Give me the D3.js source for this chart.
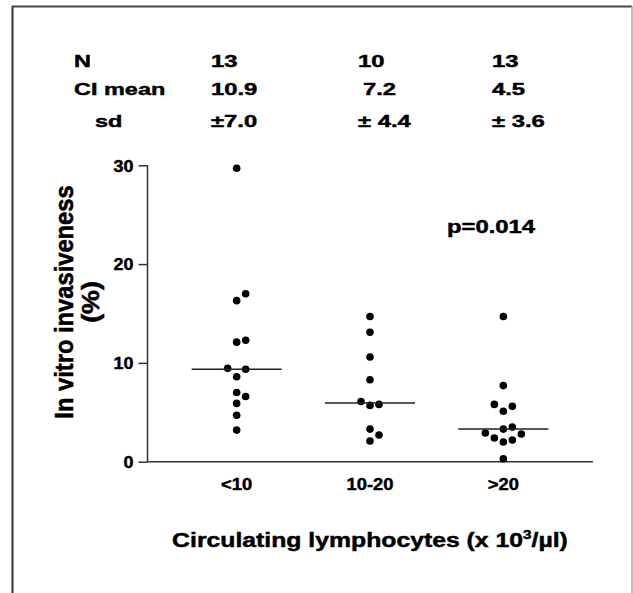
<!DOCTYPE html>
<html lang="en">
<head>
  <meta charset="UTF-8" />
  <title>In vitro invasiveness by circulating lymphocytes</title>
  <script src="https://d3js.org/d3.v7.min.js"></script>
  <style>
    body { margin: 0; background: #fff; }
    svg { display: block; font-family: "Liberation Sans", Arial, sans-serif; font-weight: bold; }
    svg text { fill: #000; stroke: #000; stroke-width: 0.45px; }
  </style>
</head>
<body>
<svg width="633" height="593"></svg>

<script>
  // data
  const categories = ["<10", "10-20", ">20"];
  const nCounts = ["13", "10", "13"];
  const ciMeans = ["10.9", "7.2", "4.5"];
  const sds = ["\u00b17.0", "\u00b1 4.4", "\u00b1 3.6"];
  const group1 = [29.7, 17.0, 16.3, 12.3, 12.1, 9.45, 9.35, 8.6, 7.0, 6.6, 5.9, 4.7, 3.2];
  const group2 = [14.7, 13.1, 10.6, 8.3, 6.1, 5.8, 5.7, 3.3, 2.7, 2.1];
  const group3 = [14.7, 7.7, 5.8, 5.6, 5.1, 3.5, 3.3, 2.9, 2.8, 2.4, 2.2, 2.0, 0.3];
  const yTicks = [0, 10, 20, 30];
  const pText = "p=0.014";

  const groups = [group1, group2, group3];

  const svg = d3.select("svg");

  // the original font runs wide, so stretch text along its baseline
  function widen(sel, k) {
    sel.each(function() {
      const len = this.getComputedTextLength();
      d3.select(this).attr("textLength", len * k).attr("lengthAdjust", "spacingAndGlyphs");
    });
    return sel;
  }

  // frame
  svg.append("line").attr("x1", 12.5).attr("x2", 12.5).attr("y1", 6).attr("y2", 593)
    .attr("stroke", "#333").attr("stroke-width", 2);
  svg.append("line").attr("x1", 12).attr("x2", 632).attr("y1", 6.5).attr("y2", 6.5)
    .attr("stroke", "#444").attr("stroke-width", 2);
  svg.append("line").attr("x1", 632).attr("x2", 632).attr("y1", 6).attr("y2", 593)
    .attr("stroke", "#aaa").attr("stroke-width", 1.5);

  const x = d3.scaleBand().domain(categories).range([170, 570]);
  const y = d3.scaleLinear().domain([0, 30]).range([461.7, 165.3]);
  const cx = c => x(c) + x.bandwidth() / 2;

  // y axis
  const yAxis = svg.append("g").attr("transform", "translate(147.5,0)")
    .call(d3.axisLeft(y).tickValues(yTicks).tickSize(9).tickPadding(5));
  yAxis.select(".domain").attr("d", `M0,${y(30)}V${y(0)}`);
  yAxis.selectAll("path, line").attr("stroke", "#333").attr("stroke-width", 1.5);
  yAxis.selectAll("text").attr("font-size", 16).attr("font-family", null).attr("dy", "0.36em");
  widen(yAxis.selectAll("text"), 1.12);

  // x axis (baseline only, labels under groups)
  svg.append("line").attr("x1", 147).attr("x2", 593).attr("y1", y(0)).attr("y2", y(0))
    .attr("stroke", "#333").attr("stroke-width", 1.5);
  const xl = svg.selectAll(".xlab").data(categories).enter().append("text")
    .attr("class", "xlab")
    .attr("x", d => cx(d)).attr("y", 490)
    .attr("text-anchor", "middle").attr("font-size", 17)
    .text(d => d);
  widen(xl, 1.08);

  // points, dodged sideways so they do not overlap
  const step = 9, minGap = 9;
  groups.forEach((vals, gi) => {
    const c = cx(categories[gi]);
    const placed = [];
    const sorted = vals.slice().sort((a, b) => a - b);
    sorted.forEach(v => {
      const py = y(v);
      for (const lane of [0, 1, -1, 2, -2, 3, -3]) {
        if (!placed.some(p => p.lane === lane && Math.abs(p.py - py) < minGap)) {
          placed.push({ lane, py, v });
          break;
        }
      }
    });
    svg.selectAll(".dot" + gi).data(placed).enter().append("circle")
      .attr("class", "dot" + gi)
      .attr("cx", d => c + d.lane * step)
      .attr("cy", d => d.py)
      .attr("r", 3.8)
      .attr("fill", "#000");

    const med = d3.median(vals);
    svg.append("line")
      .attr("x1", c - 45).attr("x2", c + 45)
      .attr("y1", y(med)).attr("y2", y(med))
      .attr("stroke", "#222").attr("stroke-width", 1.5);
  });

  // summary table above the plot
  const rowY = [67, 95, 127];
  const colX = [211, 358, 492];
  const tbl = svg.append("g").attr("font-size", 17);
  [["N", 74], ["CI mean", 74], ["sd", 95]].forEach(([t, tx], i) => {
    widen(tbl.append("text").attr("x", tx).attr("y", rowY[i]).text(t), 1.38);
  });
  [nCounts, ciMeans, sds].forEach((row, ri) => {
    row.forEach((t, ci) => {
      const shift = (ri === 1 && ci === 1) ? 5 : 0;
      widen(tbl.append("text").attr("x", colX[ci] + shift).attr("y", rowY[ri]).text(t), 1.4);
    });
  });

  // p value
  widen(svg.append("text").attr("x", 447).attr("y", 233).attr("font-size", 17.5).text(pText), 1.36);

  // axis titles (rotated, thickened across the baseline)
  const yt = svg.append("text").attr("transform", "translate(72.5,302) scale(1.2,1) rotate(-90)")
    .attr("text-anchor", "middle").attr("font-size", 21).text("In vitro invasiveness");
  widen(yt, 1.13);
  const yt2 = svg.append("text").attr("transform", "translate(99,302) scale(1.2,1) rotate(-90)")
    .attr("text-anchor", "middle").attr("font-size", 20).text("(%)");
  widen(yt2, 1.34);

  const xt = svg.append("text").attr("x", cx(categories[1])).attr("y", 547)
    .attr("text-anchor", "middle").attr("font-size", 19.5);
  xt.append("tspan").text("Circulating lymphocytes (x 10");
  xt.append("tspan").attr("font-size", 12).attr("dy", -8).text("3");
  xt.append("tspan").attr("dy", 8).text("/\u00b5l)");
  widen(xt, 1.27);
</script>
</body>
</html>
